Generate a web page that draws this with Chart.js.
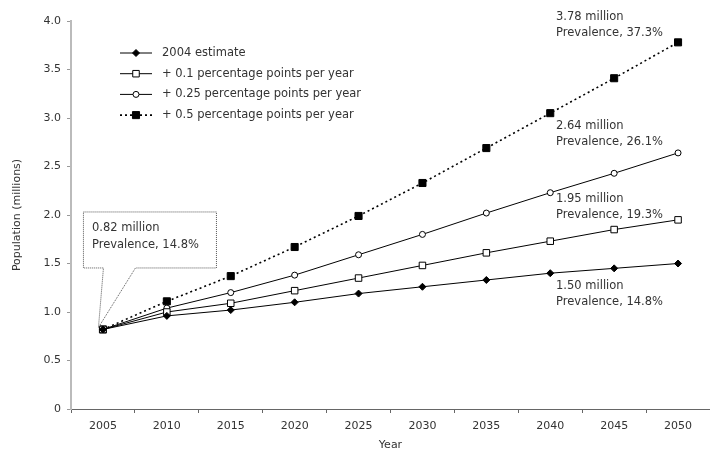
<!DOCTYPE html>
<html>
<head>
<meta charset="utf-8">
<script src="https://cdn.jsdelivr.net/npm/chart.js@4/dist/chart.umd.min.js"></script>
<style>
  html, body { margin: 0; padding: 0; background: #fff; }
  #wrap { width: 710px; height: 452px; }
</style>
</head>
<body>
<div id="wrap"><canvas id="chart"></canvas></div>
<script>
// years on the x axis
const years = ['2005', '2010', '2015', '2020', '2025', '2030', '2035', '2040', '2045', '2050'];

// population (millions) per scenario
const estimate2004 = [0.82, 0.96, 1.02, 1.10, 1.19, 1.26, 1.33, 1.40, 1.45, 1.50];
const plus01 = [0.82, 1.00, 1.09, 1.22, 1.35, 1.48, 1.61, 1.73, 1.85, 1.95];
const plus025 = [0.82, 1.04, 1.20, 1.38, 1.59, 1.80, 2.02, 2.23, 2.43, 2.64];
const plus05 = [0.82, 1.11, 1.37, 1.67, 1.99, 2.33, 2.69, 3.05, 3.41, 3.78];

const seriesNames = ['2004 estimate', '+ 0.1 percentage points per year',
    '+ 0.25 percentage points per year', '+ 0.5 percentage points per year'];

// end-of-line annotations [line1, line2]
const endLabels = [
    ['1.50 million', 'Prevalence, 14.8%'],
    ['1.95 million', 'Prevalence, 19.3%'],
    ['2.64 million', 'Prevalence, 26.1%'],
    ['3.78 million', 'Prevalence, 37.3%']
];
const startLabel = ['0.82 million', 'Prevalence, 14.8%'];

const FONT = '"DejaVu Sans", Verdana, sans-serif';
const TEXT = '#333';

function drawMarker(ctx, style, x, y) {
    ctx.save();
    ctx.setLineDash([]);
    ctx.lineWidth = 1;
    ctx.strokeStyle = '#000';
    ctx.beginPath();
    if (style.pointStyle === 'rectRot') {
        const r = style.pointRadius;
        ctx.moveTo(x, y - r); ctx.lineTo(x + r, y); ctx.lineTo(x, y + r); ctx.lineTo(x - r, y);
        ctx.closePath();
    } else if (style.pointStyle === 'rect') {
        const r = style.pointRadius * Math.SQRT1_2;
        ctx.rect(x - r, y - r, 2 * r, 2 * r);
    } else {
        ctx.arc(x, y, style.pointRadius, 0, Math.PI * 2);
    }
    ctx.fillStyle = style.pointBackgroundColor;
    ctx.fill();
    ctx.stroke();
    ctx.restore();
}

// legend + text annotations
const annotations = {
    id: 'annotations',
    afterDatasetsDraw(chart) {
        const ctx = chart.ctx;
        const xs = chart.scales.x, ys = chart.scales.y;
        ctx.save();
        ctx.font = '11.5px ' + FONT;
        ctx.fillStyle = TEXT;
        ctx.textBaseline = 'middle';

        // legend
        chart.data.datasets.forEach((ds, i) => {
            const y = 53 + i * 20.7;
            ctx.save();
            ctx.strokeStyle = '#000';
            ctx.lineWidth = ds.borderWidth;
            ctx.setLineDash(ds.borderDash || []);
            ctx.beginPath();
            ctx.moveTo(120, y);
            ctx.lineTo(152, y);
            ctx.stroke();
            ctx.restore();
            drawMarker(ctx, ds, 136, y);
            ctx.fillStyle = TEXT;
            ctx.textAlign = 'left';
            ctx.fillText(ds.label, 162, y);
        });

        // end labels next to 2050 values
        const last = years.length - 1;
        const xEnd = xs.getPixelForValue(last) - 122;
        const offsets = [23, -21, -27, -25];
        chart.data.datasets.forEach((ds, i) => {
            const y = ys.getPixelForValue(ds.data[last]) + offsets[i];
            ctx.textAlign = 'left';
            ctx.fillText(endLabels[i][0], xEnd, y);
            ctx.fillText(endLabels[i][1], xEnd, y + 16);
        });

        // callout at 2005
        const px = xs.getPixelForValue(0);
        const py = ys.getPixelForValue(estimate2004[0]);
        const bx = px - 20, by = py - 118, bw = 133, bh = 56;
        ctx.save();
        ctx.strokeStyle = '#555';
        ctx.lineWidth = 1;
        ctx.setLineDash([1, 1]);
        ctx.fillStyle = '#fff';
        ctx.beginPath();
        ctx.moveTo(bx + 0.5, by + 0.5);
        ctx.lineTo(bx + bw + 0.5, by + 0.5);
        ctx.lineTo(bx + bw + 0.5, by + bh + 0.5);
        ctx.lineTo(px + 32.5, by + bh + 0.5);
        ctx.lineTo(px - 4.5, py - 2);
        ctx.lineTo(px + 0.5, by + bh + 0.5);
        ctx.lineTo(bx + 0.5, by + bh + 0.5);
        ctx.closePath();
        ctx.fill();
        ctx.stroke();
        ctx.restore();
        ctx.fillStyle = TEXT;
        ctx.textAlign = 'left';
        ctx.fillText(startLabel[0], px - 11, py - 101);
        ctx.fillText(startLabel[1], px - 11, py - 84);
        ctx.restore();
    }
};

const styles = [
    { pointStyle: 'rectRot', pointRadius: 3.5, pointBackgroundColor: '#000', borderDash: [], borderWidth: 1 },
    { pointStyle: 'rect', pointRadius: 4.6, pointBackgroundColor: '#fff', borderDash: [], borderWidth: 1 },
    { pointStyle: 'circle', pointRadius: 3, pointBackgroundColor: '#fff', borderDash: [], borderWidth: 1 },
    { pointStyle: 'rect', pointRadius: 5, pointBackgroundColor: '#000', borderDash: [2, 3], borderWidth: 1.6 }
];
const values = [estimate2004, plus01, plus025, plus05];

new Chart(document.getElementById('chart'), {
    type: 'line',
    data: {
        labels: years,
        datasets: values.map((v, i) => ({
            label: seriesNames[i],
            data: v,
            borderColor: '#000',
            pointBorderColor: '#000',
            pointBorderWidth: 1,
            tension: 0,
            ...styles[i]
        }))
    },
    options: {
        responsive: true,
        maintainAspectRatio: false,
        animation: false,
        devicePixelRatio: 1,
        layout: { autoPadding: false, padding: { top: 21, right: 0, left: 0, bottom: 0 } },
        plugins: {
            legend: { display: false },
            tooltip: { enabled: false }
        },
        scales: {
            x: {
                type: 'category',
                offset: true,
                grid: { display: true, offset: true, drawOnChartArea: false, drawTicks: true, tickLength: 4, color: '#666' },
                border: { display: true, color: '#666', width: 1 },
                ticks: { font: { family: FONT, size: 11 }, color: TEXT, padding: 7, maxRotation: 0 },
                title: { display: true, text: 'Year', font: { family: FONT, size: 11 }, color: TEXT, padding: { top: 2, bottom: 0 } },
                afterFit(scale) {
                    scale.height = 43;
                    scale.paddingLeft = 0;
                    scale.paddingRight = 0;
                }
            },
            y: {
                min: 0,
                max: 4,
                grid: { display: true, drawOnChartArea: false, drawTicks: true, tickLength: 4, color: '#999' },
                border: { display: true, color: '#bbb', width: 2 },
                ticks: {
                    stepSize: 0.5,
                    font: { family: FONT, size: 11 },
                    color: TEXT,
                    padding: 6,
                    callback: v => v === 0 ? '0' : v.toFixed(1)
                },
                title: { display: true, text: 'Population (millions)', font: { family: FONT, size: 11 }, color: TEXT, padding: { top: 11, bottom: 0 } },
                afterFit(scale) { scale.width = 71; }
            }
        }
    },
    plugins: [annotations]
});
</script>
</body>
</html>
